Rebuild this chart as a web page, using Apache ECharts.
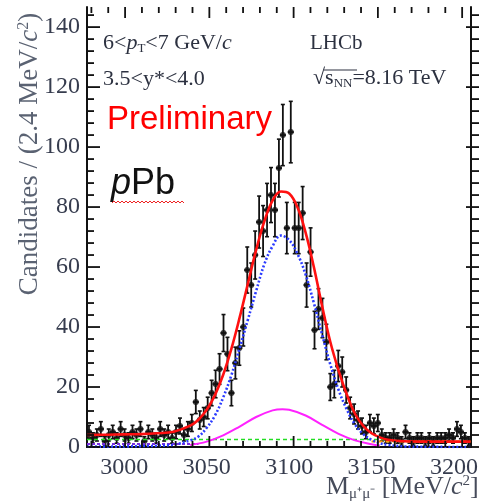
<!DOCTYPE html>
<html><head><meta charset="utf-8">
<script src="https://cdn.jsdelivr.net/npm/echarts@6/dist/echarts.min.js"></script>
<style>html,body{margin:0;padding:0;background:#fff}#c{width:481px;height:504px}</style>
</head><body><div id="c"></div>
<script>
// ---- data ----
const binCenters = [2978.6,2981.0,2983.4,2985.8,2988.2,2990.6,2993.0,2995.4,2997.8,3000.2,3002.6,3005.0,3007.4,3009.8,3012.2,3014.6,3017.0,3019.4,3021.8,3024.2,3026.6,3029.0,3031.4,3033.8,3036.2,3038.6,3041.0,3043.4,3045.8,3048.2,3050.6,3053.0,3055.4,3057.8,3060.2,3062.6,3065.0,3067.4,3069.8,3072.2,3074.6,3077.0,3079.4,3081.8,3084.2,3086.6,3089.0,3091.4,3093.8,3096.2,3098.6,3101.0,3103.4,3105.8,3108.2,3110.6,3113.0,3115.4,3117.8,3120.2,3122.6,3125.0,3127.4,3129.8,3132.2,3134.6,3137.0,3139.4,3141.8,3144.2,3146.6,3149.0,3151.4,3153.8,3156.2,3158.6,3161.0,3163.4,3165.8,3168.2,3170.6,3173.0,3175.4,3177.8,3180.2,3182.6,3185.0,3187.4,3189.8,3192.2,3194.6,3197.0,3199.4,3201.8,3204.2,3206.6,3209.0];
const counts = [5,3,4,6,2,4,5,3,6,4,3,5,4,6,2,5,4,3,6,4,5,3,5,7,4,6,8,15,9,10,13,18,21,26,38,31,18,28,33,40,59,54,64,75,72,79,84,79,93,104,73,105,73,73,78,54,65,39,46,43,35,20,21,27,25,19,13,11,9,7,5,8,7,8,4,3,3,4,3,2,5,3,2,3,3,2,3,2,3,3,3,4,3,6,5,3,2];

const curveX   = [2977.4,2990,3000,3010,3020,3030,3040,3045,3050,3055,3060,3065,3070,3075,3080,3085,3090,3095,3100,3105,3110,3115,3120,3125,3130,3135,3140,3145,3150,3155,3160,3170,3180,3190,3200,3210];
const totalFit = [4.0,4.1,4.2,4.3,4.6,5.1,7.1,9.1,12.4,17.3,24.1,32.8,43.2,54.5,65.7,75.3,82.2,85.2,84.5,80,71.5,60,47,35,25.5,17.5,11,7,4.6,3.2,2.4,1.9,1.8,1.8,1.8,1.8];
const signalFit= [0.1,0.15,0.2,0.3,0.4,0.8,2.2,3.5,6.4,10.5,16.5,24,33,42.5,52,61,67,70.5,69,64.5,57.5,48,37.5,27.5,19,12.5,7.5,4.3,2.4,1.3,0.7,0.2,0.1,0.05,0,0];

const secondX   = [3040,3050,3060,3070,3080,3090,3096,3100,3110,3120,3130,3140,3150,3155];
const secondFit = [0.7,1.8,3.9,6.8,10.0,12.2,12.6,12.4,10.5,7.4,4.4,2.2,0.9,0.5];

const bkgX = [2977.4,3160];
const bkgGreen = [2.5,2.5];
const bkg2X = [3150,3210];
const bkgOrange = [1.8,1.8];
const bkg3X = [2977.4,3045];
const bkgPurple = [1.0,1.0];

const xMajor = [3000,3050,3100,3150,3200];
const xMinor = [2980,2990,3010,3020,3030,3040,3060,3070,3080,3090,3110,3120,3130,3140,3160,3170,3180,3190];
const yMajor = [0,20,40,60,80,100,120,140];
const yMinor = [4,8,12,16,24,28,32,36,44,48,52,56,64,68,72,76,84,88,92,96,104,108,112,116,124,128,132,136,144];

const X_MIN = 2977.4, X_MAX = 3210, Y_MAX = 146.7, BIN_HALF = 1.2;
const GRID_L = 87, GRID_T = 7, GRID_W = 392, GRID_H = 440;
const X_MAJ_LEN = 11, X_MIN_LEN = 6, Y_MAJ_LEN = 13, Y_MIN_LEN = 7;

const pts = binCenters.map((c,i)=>[c, counts[i], Math.sqrt(counts[i])]);
const pair = (xs, ys) => xs.map((x,i)=>[x, ys[i]]);

const serif = 'Liberation Serif';
const chart = echarts.init(document.getElementById('c'), null, {renderer:'canvas'});
const plain = v => String(v);

function xAx(pos, labels){
  return {type:'value', min:X_MIN, max:X_MAX, position:pos,
    axisLine:{show:true, lineStyle:{color:'#111', width:2}}, splitLine:{show:false},
    axisTick:{show:false},
    axisLabel:{show:labels, customValues:xMajor, formatter:plain, margin:9, fontFamily:serif, fontSize:24, color:'#363c4e'}};
}
function yAx(pos, labels){
  return {type:'value', min:0, max:Y_MAX, position:pos,
    axisLine:{show:true, lineStyle:{color:'#111', width:2}}, splitLine:{show:false},
    axisTick:{show:false},
    axisLabel:{show:labels, customValues:yMajor, formatter:plain, margin:7, fontFamily:serif, fontSize:24, color:'#363c4e'}};
}

const textGraphics = [
    {type:'text', left:103, top:32, z:20, style:{
      text:'6<{pi|p}{sub|T}<7 GeV/{it|c}', fontFamily:serif, fontSize:22, fill:'#2c3140',
      rich:{pi:{fontFamily:serif, fontStyle:'italic', fontSize:22, fill:'#2c3140'},
            sub:{fontFamily:serif, fontSize:13, fill:'#2c3140', padding:[12,0,0,0]},
            it:{fontFamily:serif, fontStyle:'italic', fontSize:22, fill:'#2c3140'}}}},
    {type:'text', left:310, top:33, z:20, style:{text:'LHCb', fontFamily:serif, fontSize:21, fill:'#2c3140'}},
    {type:'text', left:103, top:68, z:20, style:{text:'3.5<y*<4.0', fontFamily:serif, fontSize:22, fill:'#2c3140'}},
    {type:'text', left:313, top:67, z:20, style:{
      text:'√{s|s}{sub|NN}=8.16 TeV', fontFamily:serif, fontSize:22, fill:'#2c3140',
      rich:{s:{fontFamily:serif, fontSize:22, fill:'#2c3140'},
            sub:{fontFamily:serif, fontSize:13, fill:'#2c3140', padding:[12,0,0,0]}}}},
    {type:'rect', z:20, shape:{x:324,y:69.5,width:33,height:1}, style:{fill:'#2c3140'}},
    {type:'text', left:107, top:103, z:20, style:{text:'Preliminary', fontFamily:'Liberation Sans', fontSize:33, fill:'#ff0000'}},
    {type:'text', left:111, top:166, z:20, style:{
      text:'{i|p}Pb', fontFamily:'Liberation Sans', fontSize:36, fill:'#111',
      rich:{i:{fontFamily:'Liberation Sans', fontStyle:'italic', fontSize:36, fill:'#111'}}}},
    {type:'polyline', z:20, shape:{points:[[112,203],[114,201],[116,203],[118,201],[120,203],[122,201],[124,203],[126,201],[128,203],[130,201],[132,203],[134,201],[136,203],[138,201],[140,203],[142,201],[144,203],[146,201],[148,203],[150,201],[152,203],[154,201],[156,203],[158,201],[160,203],[162,201],[164,203],[166,201],[168,203],[170,201],[172,203],[174,201],[176,203],[178,201],[180,203],[182,201],[184,203]]},
     style:{stroke:'#ee2222', lineWidth:1, fill:null}},
    {type:'text', x:30, y:154, rotation:Math.PI/2, z:20, style:{
      text:'Candidates / (2.4 MeV/{it|c}{sup|2})', fontFamily:serif, fontSize:27, fill:'#5a6272',
      align:'center', verticalAlign:'middle',
      rich:{it:{fontFamily:serif, fontStyle:'italic', fontSize:27, fill:'#5a6272'},
            sup:{fontFamily:serif, fontSize:16, fill:'#5a6272', padding:[0,0,12,0]}}}},
    {type:'text', left:326, top:474, z:20, style:{
      text:'M{sub|μ⁺μ⁻} [MeV/{it|c}{sup|2}]', fontFamily:serif, fontSize:26, fill:'#464b5a',
      rich:{sub:{fontFamily:serif, fontSize:15, fill:'#464b5a', padding:[14,0,0,0]},
            it:{fontFamily:serif, fontStyle:'italic', fontSize:26, fill:'#464b5a'},
            sup:{fontFamily:serif, fontSize:15, fill:'#464b5a', padding:[0,0,12,0]}}}}
];

// tick marks on all four sides: linear positions along the frame from the axis ranges
const TW = 1.8;
const tickGraphics = [];
const xPix = v => GRID_L + GRID_W * (v - X_MIN) / (X_MAX - X_MIN);
const yPix = v => GRID_T + GRID_H * (1 - v / Y_MAX);
function addXTick(v, len){
  const x = xPix(v);
  tickGraphics.push({type:'rect', z:30, silent:true, shape:{x:x-TW/2, y:GRID_T+GRID_H-len, width:TW, height:len}, style:{fill:'#111'}});
  tickGraphics.push({type:'rect', z:30, silent:true, shape:{x:x-TW/2, y:GRID_T, width:TW, height:len}, style:{fill:'#111'}});
}
function addYTick(v, len){
  const y = yPix(v);
  tickGraphics.push({type:'rect', z:30, silent:true, shape:{x:GRID_L, y:y-TW/2, width:len, height:TW}, style:{fill:'#111'}});
  tickGraphics.push({type:'rect', z:30, silent:true, shape:{x:GRID_L+GRID_W-len, y:y-TW/2, width:len, height:TW}, style:{fill:'#111'}});
}
xMajor.forEach(v=>addXTick(v, X_MAJ_LEN));
xMinor.forEach(v=>addXTick(v, X_MIN_LEN));
yMajor.forEach(v=>addYTick(v, Y_MAJ_LEN));
yMinor.forEach(v=>addYTick(v, Y_MIN_LEN));

const option = {
  animation:false,
  backgroundColor:'#fff',
  grid:{left:GRID_L, top:GRID_T, width:GRID_W, height:GRID_H, show:false},
  xAxis:[ xAx('bottom', true), xAx('top', false) ],
  yAxis:[ yAx('left', true), yAx('right', false) ],
  series:[
    {type:'custom', xAxisIndex:0, yAxisIndex:0, clip:true, z:3,
     renderItem:function(params, api){
       const x = api.value(0), y = api.value(1), e = api.value(2);
       const p = api.coord([x,y]), hi = api.coord([x,y+e]), lo = api.coord([x,y-e]);
       const l = api.coord([x-BIN_HALF,y]), r = api.coord([x+BIN_HALF,y]);
       const f = {fill:'#111'};
       return {type:'group', children:[
         {type:'rect', shape:{x:p[0]-0.9, y:hi[1], width:1.8, height:lo[1]-hi[1]}, style:f},
         {type:'rect', shape:{x:p[0]-2, y:hi[1]-0.8, width:4, height:1.6}, style:f},
         {type:'rect', shape:{x:p[0]-2, y:lo[1]-0.8, width:4, height:1.6}, style:f},
         {type:'rect', shape:{x:l[0]-1, y:p[1]-0.9, width:r[0]-l[0]+2, height:1.8}, style:f}
       ]};
     },
     data:pts},
    {type:'scatter', xAxisIndex:0, yAxisIndex:0, symbol:'circle', symbolSize:6, itemStyle:{color:'#111'}, z:4,
     data:pts.map(p=>[p[0],p[1]])},
    {type:'line', xAxisIndex:0, yAxisIndex:0, data:pair(bkg3X,bkgPurple), showSymbol:false, lineStyle:{color:'#7a2de0', width:2, type:[3,2]}, z:5},
    {type:'line', xAxisIndex:0, yAxisIndex:0, data:pair(bkgX,bkgGreen), showSymbol:false, lineStyle:{color:'#22dd22', width:1.6, type:[4,3]}, z:5},
    {type:'line', xAxisIndex:0, yAxisIndex:0, data:pair(bkg2X,bkgOrange), showSymbol:false, lineStyle:{color:'#ff9a00', width:2, type:[4,3]}, z:5},
    {type:'line', xAxisIndex:0, yAxisIndex:0, data:pair(secondX,secondFit), showSymbol:false, smooth:0.4, lineStyle:{color:'#ff22ff', width:2}, z:5},
    {type:'line', xAxisIndex:0, yAxisIndex:0, data:pair(curveX,signalFit), showSymbol:false, smooth:0.4, lineStyle:{color:'#2b3cff', width:2.6, type:[2,2]}, z:6},
    {type:'line', xAxisIndex:0, yAxisIndex:0, data:pair(curveX,totalFit), showSymbol:false, smooth:0.4, lineStyle:{color:'#ff1010', width:2.6}, z:7}
  ],
  graphic: textGraphics.concat(tickGraphics)
};
chart.setOption(option);
</script>
</body></html>
